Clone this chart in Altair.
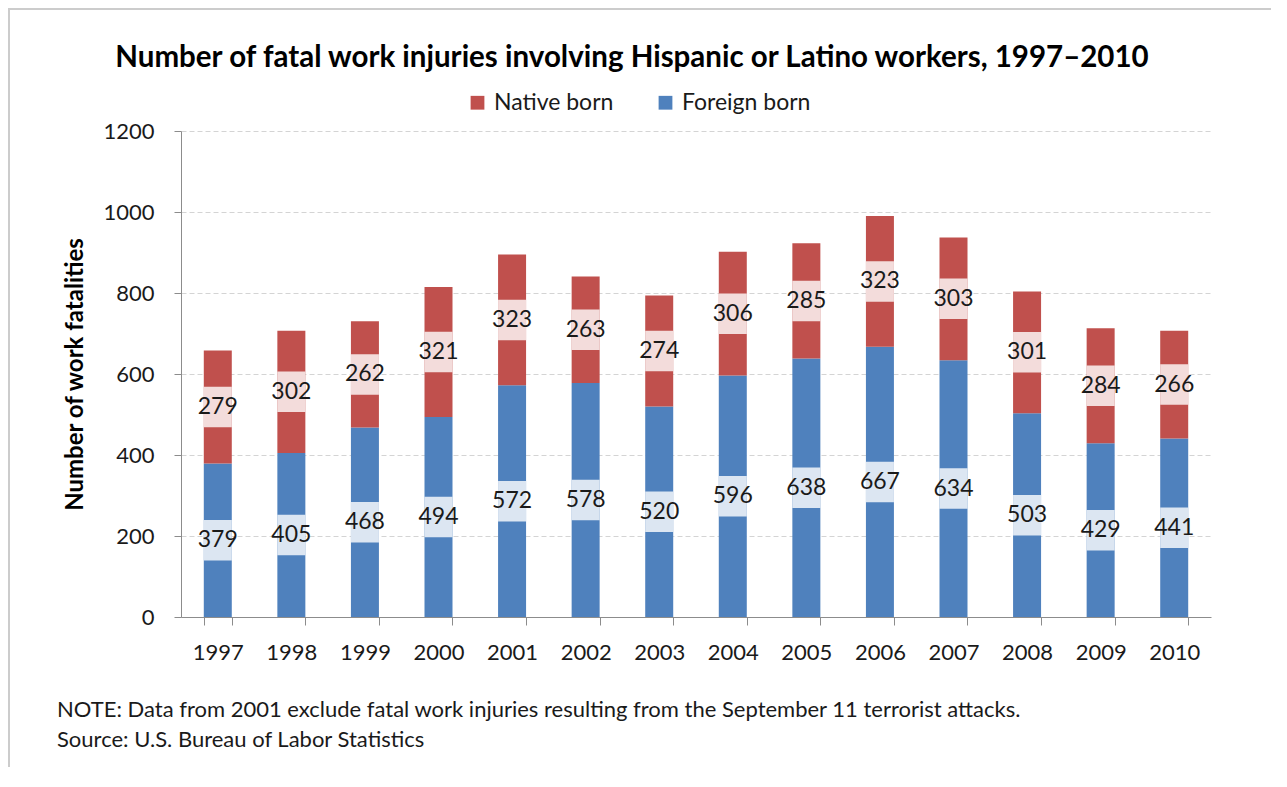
import altair as alt
import pandas as pd

years = ["1997", "1998", "1999", "2000", "2001", "2002", "2003",
         "2004", "2005", "2006", "2007", "2008", "2009", "2010"]
foreign_born = [379, 405, 468, 494, 572, 578, 520, 596, 638, 667, 634, 503, 429, 441]
native_born = [279, 302, 262, 321, 323, 263, 274, 306, 285, 323, 303, 301, 284, 266]
series_names = ["Native born", "Foreign born"]
series_colors = ["#C0504D", "#4F81BD"]
title_text = "Number of fatal work injuries involving Hispanic or Latino workers, 1997\u20132010"
note_lines = [
    "NOTE: Data from 2001 exclude  fatal work injuries resulting from the September 11 terrorist  attacks.",
    "Source: U.S. Bureau of Labor Statistics",
]

rows = []
for y, f, n in zip(years, foreign_born, native_born):
    rows.append({"year": y, "series": "Foreign born", "value": f, "order": 0})
    rows.append({"year": y, "series": "Native born", "value": n, "order": 1})
df = pd.DataFrame(rows)

FONT = "Lato"
W, H = 1030, 486
TXT = "#1a1a1a"

xenc = alt.X("year:O", title=None, sort=years,
             scale=alt.Scale(paddingInner=0.62, paddingOuter=0.31),
             axis=alt.Axis(labelAngle=0, tickBand="extent", tickSize=8,
                           labelPadding=17, labelFontSize=22, labelColor=TXT,
                           labelFont=FONT, domainColor="#8c8c8c", tickColor="#8c8c8c",
                           grid=False))

base = alt.Chart(df).transform_stack(
    stack="value", groupby=["year"], sort=[alt.SortField("order")], as_=["y0", "y1"]
).transform_calculate(mid="(datum.y0 + datum.y1) / 2"
).transform_calculate(lo="datum.mid - 50"
).transform_calculate(hi="datum.mid + 50")

yscale = alt.Scale(domain=[0, 1200])

bars = base.mark_bar(size=28).encode(
    x=xenc,
    y=alt.Y("y0:Q", scale=yscale, title="Number of work fatalities",
            axis=alt.Axis(values=[0, 200, 400, 600, 800, 1000, 1200], format="d",
                          labelFontSize=22, labelColor=TXT, labelFont=FONT,
                          labelPadding=20, tickSize=7, tickColor="#8c8c8c",
                          domainColor="#8c8c8c", gridColor="#d4d4d4", gridDash=[5, 3],
                          titleFont=FONT, titleFontSize=24, titleFontWeight="bold",
                          titleColor="#000000", titlePadding=15)),
    y2="y1:Q",
    color=alt.Color("series:N", scale=alt.Scale(domain=series_names, range=series_colors),
                    legend=alt.Legend(title=None, orient="none", legendX=285, legendY=-40,
                                      direction="horizontal", symbolType="square",
                                      symbolSize=190, symbolStrokeWidth=0,
                                      labelFontSize=23, labelFont=FONT, labelColor=TXT,
                                      columnPadding=40, labelOffset=5)),
)

boxes = base.mark_bar(size=28, color="white", opacity=0.8).encode(
    x=xenc, y=alt.Y("lo:Q", scale=yscale), y2="hi:Q"
)

labels = base.mark_text(fontSize=23, font=FONT, color=TXT, baseline="middle").encode(
    x=xenc, y=alt.Y("mid:Q", scale=yscale), text="value:Q"
)

one = pd.DataFrame({"a": [0]})

title = alt.Chart(one).mark_text(
    text=title_text, font=FONT, fontSize=29.5, fontWeight="bold", color="#000000",
    align="center", baseline="middle"
).encode(x=alt.value(451), y=alt.value(-73))

note_layers = []
for i, line in enumerate(note_lines):
    note_layers.append(alt.Chart(one).mark_text(
        text=line, align="left", baseline="middle", fontSize=22, font=FONT, color=TXT
    ).encode(x=alt.value(-124), y=alt.value(H + 93 + 30 * i)))

frame_top = alt.Chart(one).mark_rule(color="#cccccc", strokeWidth=2).encode(
    x=alt.value(-173), x2=alt.value(1200), y=alt.value(-122))
frame_left = alt.Chart(one).mark_rule(color="#cccccc", strokeWidth=2).encode(
    x=alt.value(-172), y=alt.value(-123), y2=alt.value(900))

chart = alt.layer(bars, boxes, labels, title, *note_layers, frame_top, frame_left).properties(
    width=W, height=H,
    autosize=alt.AutoSizeParams(type="none"),
    padding={"left": 173, "top": 123, "right": 60, "bottom": 150},
).configure_view(stroke=None)

chart.save("out.html", embed_options={"renderer": "svg", "actions": False})
